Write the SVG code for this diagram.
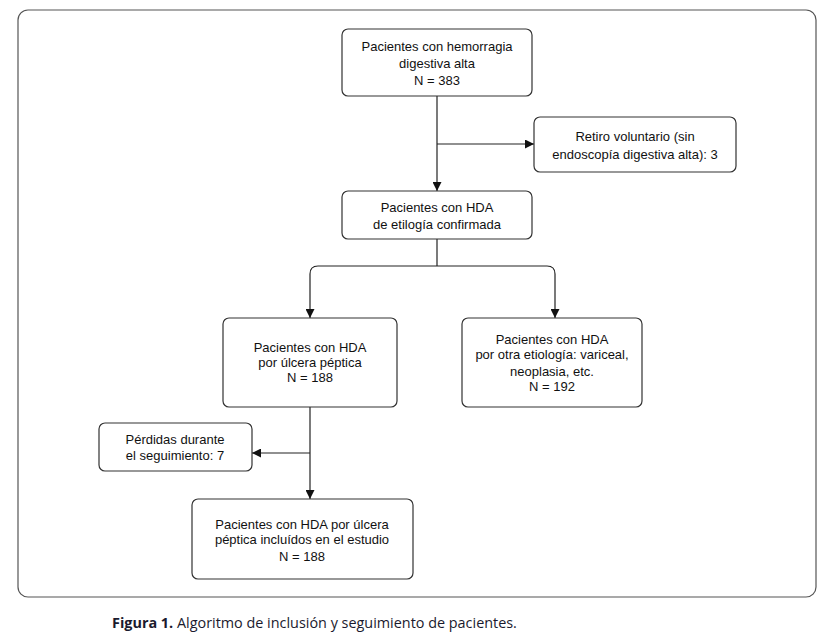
<svg xmlns="http://www.w3.org/2000/svg" width="834" height="640" viewBox="0 0 834 640">
<defs>
<style>
.box{fill:#fff;stroke:#333;stroke-width:1.2}
.t{font-family:"Liberation Sans",Arial,sans-serif;font-size:13px;fill:#111;text-anchor:middle}
.c{fill:none;stroke:#222;stroke-width:1.2}
.cap{font-family:"Open Sans","DejaVu Sans",sans-serif;font-size:14.4px;fill:#1a1a2e}
</style>
<marker id="ah" viewBox="0 0 10 10" refX="10" refY="5" markerWidth="10" markerHeight="9" markerUnits="userSpaceOnUse" orient="auto">
<path d="M0,0 L10,5 L0,10 z" fill="#111"/>
</marker>
</defs>
<rect width="834" height="640" fill="#fff"/>
<rect x="18" y="10" width="798" height="587" rx="10" fill="none" stroke="#555" stroke-width="1.2"/>
<g id="connectors">
<path class="c" d="M437,96 V191" marker-end="url(#ah)"/>
<path class="c" d="M437,144 H534" marker-end="url(#ah)"/>
<path class="c" d="M437,239 V266"/>
<path class="c" d="M437,266 H318 Q310,266 310,274 V318" marker-end="url(#ah)"/>
<path class="c" d="M437,266 H547 Q555,266 555,274 V318" marker-end="url(#ah)"/>
<path class="c" d="M310,407 V499" marker-end="url(#ah)"/>
<path class="c" d="M310,453 H252" marker-end="url(#ah)"/>
</g>
<g id="n1">
<rect class="box" x="342" y="29" width="190" height="67" rx="6"/>
<text class="t" x="437" y="51">Pacientes con hemorragia</text>
<text class="t" x="437" y="68">digestiva alta</text>
<text class="t" x="437" y="85">N = 383</text>
</g>
<g id="n2">
<rect class="box" x="534" y="117" width="202" height="55" rx="6"/>
<text class="t" x="635" y="141">Retiro voluntario (sin</text>
<text class="t" x="635" y="159">endoscopía digestiva alta): 3</text>
</g>
<g id="n3">
<rect class="box" x="342" y="191" width="190" height="48" rx="6"/>
<text class="t" x="437" y="212">Pacientes con HDA</text>
<text class="t" x="437" y="229">de etilogía confirmada</text>
</g>
<g id="n4">
<rect class="box" x="223" y="318" width="174" height="89" rx="6"/>
<text class="t" x="310" y="352">Pacientes con HDA</text>
<text class="t" x="310" y="367">por úlcera péptica</text>
<text class="t" x="310" y="382">N = 188</text>
</g>
<g id="n5">
<rect class="box" x="462" y="318" width="180" height="89" rx="6"/>
<text class="t" x="552" y="344">Pacientes con HDA</text>
<text class="t" x="552" y="359">por otra etiología: variceal,</text>
<text class="t" x="552" y="376">neoplasia, etc.</text>
<text class="t" x="552" y="391">N = 192</text>
</g>
<g id="n6">
<rect class="box" x="99" y="423" width="153" height="48" rx="6"/>
<text class="t" x="175" y="444">Pérdidas durante</text>
<text class="t" x="175" y="460">el seguimiento: 7</text>
</g>
<g id="n7">
<rect class="box" x="192" y="499" width="221" height="80" rx="6"/>
<text class="t" x="302" y="529">Pacientes con HDA por úlcera</text>
<text class="t" x="302" y="544">péptica incluídos en el estudio</text>
<text class="t" x="302" y="561">N = 188</text>
</g>
<text class="cap" x="112" y="628"><tspan font-weight="bold">Figura 1.</tspan> Algoritmo de inclusión y seguimiento de pacientes.</text>
</svg>
